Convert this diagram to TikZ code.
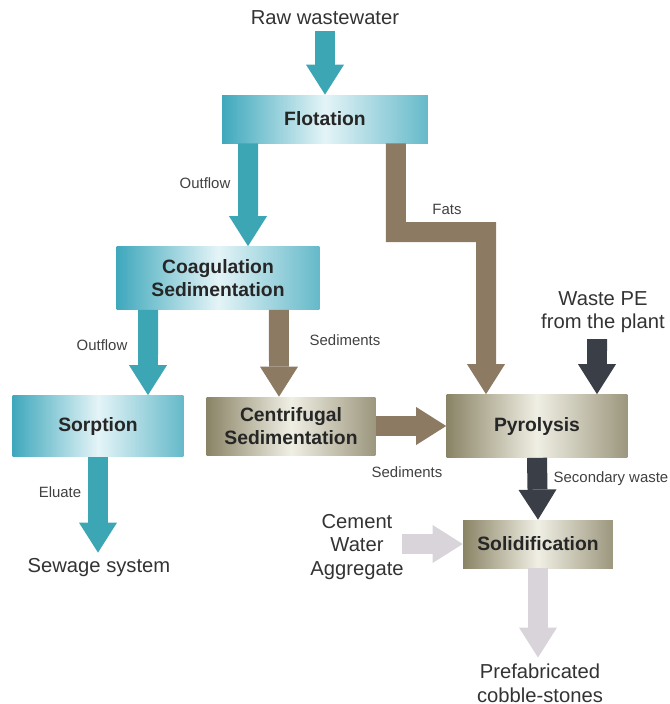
\documentclass[tikz,border=0pt]{standalone}
\usepackage{fontspec}
\setmainfont{Liberation Sans}
\usepackage{tikz}
\usetikzlibrary{arrows.meta,positioning}

\definecolor{tealedge}{HTML}{3FA8BC}
\definecolor{tealmid}{HTML}{E4F4F7}
\definecolor{tanedge}{HTML}{8A8466}
\definecolor{tanmid}{HTML}{F0EFE4}
\definecolor{flowteal}{HTML}{3DA6B4}
\definecolor{flowbrown}{HTML}{8C7A62}
\definecolor{flowdark}{HTML}{3A3E46}
\definecolor{flowgray}{HTML}{D8D4DA}

\begin{document}
\begin{tikzpicture}[x=0.02cm, y=-0.02cm,
    box/.style={minimum height=0.96cm, font=\fontsize{11}{13}\selectfont\bfseries,
      text=black!85, align=center},
    bluebox/.style={box, left color=tealedge, right color=tealedge!80, middle color=tealmid},
    tanbox/.style={box, left color=tanedge, right color=tanedge!85, middle color=tanmid},
    big/.style={font=\fontsize{11.5}{13.5}\selectfont, text=black!80, align=center},
    lbl/.style={font=\fontsize{8.5}{10}\selectfont, text=black!75},
    flow/.style={line width=0.4cm, -{Triangle[width=0.76cm, length=0.6cm, line width=0pt]}},
    tealflow/.style={flow, draw=flowteal},
    brownflow/.style={flow, draw=flowbrown},
    darkflow/.style={flow, draw=flowdark},
    grayflow/.style={flow, draw=flowgray}]
  \useasboundingbox (0,0) rectangle (670,704);

  % process steps
  \node[big] (raw) at (325,18) {Raw wastewater};
  \node[bluebox, minimum width=4.12cm] (flot) at (325,119) {Flotation};
  \node[bluebox, minimum width=4.06cm, minimum height=1.26cm] (coag) at (218,278) {Coagulation\\Sedimentation};
  \node[bluebox, minimum width=3.42cm, minimum height=1.22cm] (sorp) at (98,426) {Sorption};
  \node[tanbox, minimum width=3.38cm, minimum height=1.16cm] (cent) at (291,426) {Centrifugal\\Sedimentation};
  \node[tanbox, minimum width=3.62cm, minimum height=1.26cm] (pyro) at (537,426) {Pyrolysis};
  \node[tanbox, minimum width=3.0cm] (solid) at (538,544) {Solidification};
  \node[big] (pe) at (603,312) {Waste PE\\from the plant};
  \node[big] (cement) at (357,547) {Cement\\Water\\Aggregate};
  \node[big] (sewage) at (99,568) {Sewage system};
  \node[big] (cobble) at (540,683) {Prefabricated\\cobble-stones};

  % streams
  \draw[tealflow] (raw) -- (flot);
  \draw[tealflow] ([xshift=-1.54cm]flot.south) -- ([xshift=0.6cm]coag.north);
  \coordinate (fatsbend) at (486,232);
  \draw[brownflow, line join=miter] ([xshift=1.42cm]flot.south) |- (fatsbend) -- ([xshift=-1.02cm]pyro.north);
  \draw[tealflow] ([xshift=-1.4cm]coag.south) -- ([xshift=1.0cm]sorp.north);
  \draw[brownflow] ([xshift=1.22cm]coag.south) -- ([xshift=-0.24cm]cent.north);
  \draw[darkflow] ([xshift=-0.12cm]pe.south) -- ([xshift=1.2cm]pyro.north);
  \draw[brownflow] (cent) -- (pyro);
  \draw[tealflow] (sorp.south) -- (sorp.south |- sewage.north);
  \draw[darkflow] (pyro.south) -- (solid.north);
  \draw[grayflow] ([xshift=-0.16cm]cement.east |- solid.west) -- (solid.west);
  \draw[grayflow] (solid.south) -- (solid.south |- cobble.north);

  % stream labels
  \node[lbl] (outflowa) at (205,183) {Outflow};
  \node[lbl] (fats) at (447,209) {Fats};
  \node[lbl] (outflowb) at (102,345) {Outflow};
  \node[lbl] (sedimentsa) at (345,340) {Sediments};
  \node[lbl] (sedimentsb) at (407,472) {Sediments};
  \node[lbl] (secondary) at (611,479) {Secondary waste};
  \node[lbl] (eluate) at (60,492) {Eluate};
\end{tikzpicture}
\end{document}
